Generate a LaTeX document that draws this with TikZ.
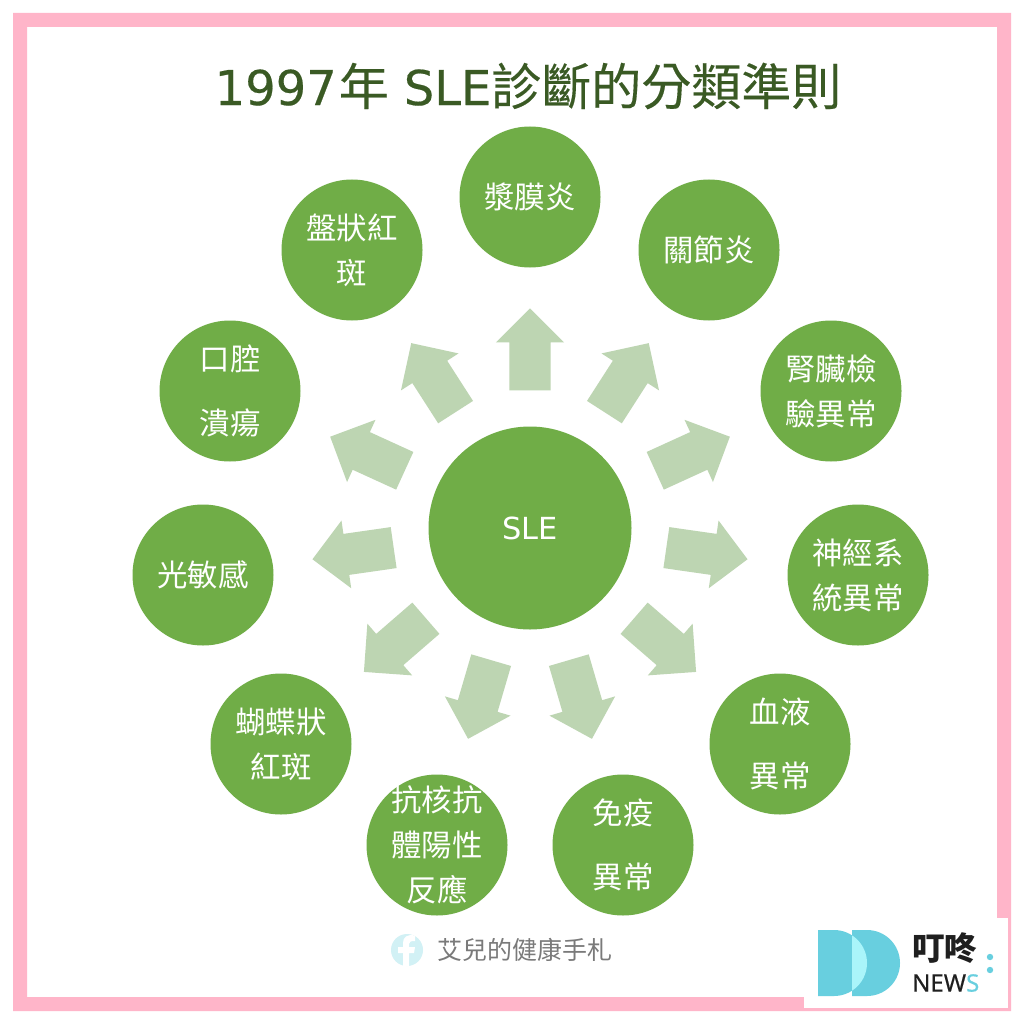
\documentclass[tikz,border=0pt]{standalone}
\usepackage{fontspec}
\usetikzlibrary{shapes.arrows}
\setmainfont{Noto Sans CJK TC}
\newfontfamily\latinf{DejaVu Sans}
\newfontfamily\titlecjk[FakeBold=0.25]{Noto Sans CJK TC}
\newfontfamily\titlelat[FakeBold=0.35]{DejaVu Sans}
\newfontfamily\logolat[FakeBold=0.4]{Noto Sans}
\definecolor{pinkb}{HTML}{FFB5C9}
\definecolor{leaf}{HTML}{70AD47}
\definecolor{pale}{HTML}{BDD5B2}
\definecolor{deep}{HTML}{3A5A24}
\definecolor{cyanl}{HTML}{68CFDF}
\definecolor{cyanp}{HTML}{AAF5FA}
\newcommand{\upb}[1]{\raisebox{2pt}{#1}}
\tikzset{
  disc/.style={circle,fill=leaf,text=white,minimum size=141pt,inner sep=0pt,align=center,font=\fontsize{30.4}{45}\selectfont},
  hub/.style={disc,minimum size=203pt},
  blockarrow/.style={single arrow,fill=pale,inner xsep=0pt,inner ysep=20.5pt,minimum height=82pt,anchor=tip,
    single arrow head extend=13.5pt,single arrow tip angle=90,single arrow head indent=0pt},
}
\begin{document}
\begin{tikzpicture}[x=1pt,y=-1pt]
\useasboundingbox (0,0) rectangle (1024,1024);
\fill[white] (0,0) rectangle (1024,1024);
% frame
\fill[pinkb,even odd rule] (13,13) rectangle (1011,1011) (27,27) rectangle (997,997);
\fill[white] (804,918) rectangle (1008,1008);
% title
\node[text=deep] (title) at (528,86) {{\fontsize{48}{50}\titlelat\selectfont 1997}\hspace{2pt}{\fontsize{50}{50}\titlecjk\selectfont 年}\hspace{15pt}{\fontsize{48}{50}\titlelat\selectfont SLE}{\fontsize{50}{50}\titlecjk\selectfont 診斷的分類準則}};
% circles
\node[hub] (sle) at (530,528) {\latinf SLE};
\node[disc] (a1) at (530,197) {漿膜炎};
\node[disc] (a2) at (709,250) {關節炎};
\node[disc] (a3) at (831,391) {\upb{腎臟檢}\\\upb{驗異常}};
\node[disc] (a4) at (858,575) {神經系\\統異常};
\node[disc] (a5) at (780,744) {血液\\[19pt]異常};
\node[disc] (a6) at (623,845) {免疫\\[19pt]異常};
\node[disc,inner sep=-20pt] (a7) at (437,845) {抗核抗\\體陽性\\反應};
\node[disc] (a8) at (281,744) {蝴蝶狀\\紅斑};
\node[disc] (a9) at (203,575) {\upb{光敏感}};
\node[disc] (a10) at (230,391) {\upb{口腔}\\[19pt]\upb{潰瘍}};
\node[disc] (a11) at (352,250) {盤狀紅\\斑};
% block arrows
\node[blockarrow,rotate=90] (b1) at (530,308) {};
\node[blockarrow,rotate=57.27] (b2) at (648.9,342.9) {};
\node[blockarrow,rotate=24.55] (b3) at (730.1,436.6) {};
\node[blockarrow,rotate=-8.18] (b4) at (747.8,559.3) {};
\node[blockarrow,rotate=-40.9] (b5) at (696.3,672.1) {};
\node[blockarrow,rotate=-73.64] (b6) at (592,739.1) {};
\node[blockarrow,rotate=-106.36] (b7) at (468,739.1) {};
\node[blockarrow,rotate=-139.09] (b8) at (363.7,672.1) {};
\node[blockarrow,rotate=-171.82] (b9) at (312.2,559.3) {};
\node[blockarrow,rotate=155.45] (b10) at (329.9,436.6) {};
\node[blockarrow,rotate=122.73] (b11) at (411.1,342.9) {};
% facebook credit
\fill[cyanl!30!white] (407,950) circle (16);
\fill[white] (409,966) -- (409,953) -- (414,953) -- (415,947) -- (409,947) -- (409,944)
  .. controls (409,941.5) and (411,941) .. (415,941) -- (415,935.5)
  .. controls (407,934) and (403,937) .. (403,943) -- (403,947) -- (398,947) -- (398,953) -- (403,953) -- (403,966) -- cycle;
\node[text=black!52] (credit) at (525,950) {\fontsize{25}{30}\selectfont 艾兒的健康手札};
% logo
\fill[cyanl] (818,930) -- (834,930) arc (-90:90:33) -- (818,996) -- cycle;
\fill[cyanl] (852,930) -- (867,930) arc (-90:90:33) -- (852,996) -- cycle;
\begin{scope}
\clip (852,930) rectangle (900,996);
\fill[cyanp] (818,930) -- (834,930) arc (-90:90:33) -- (818,996) -- cycle;
\end{scope}
\node[text=black!88,anchor=west,inner sep=0pt] (dd) at (912,948) {\fontsize{32.5}{36}\selectfont\bfseries 叮咚};
\node[text=black!88,anchor=west,inner sep=0pt] (news) at (912,983) {\fontsize{24}{26}\logolat\selectfont NEW\textcolor{cyanl}{S}};
\fill[cyanl] (990,957) circle (3.2) (990,970) circle (3.2);
\end{tikzpicture}
\end{document}
